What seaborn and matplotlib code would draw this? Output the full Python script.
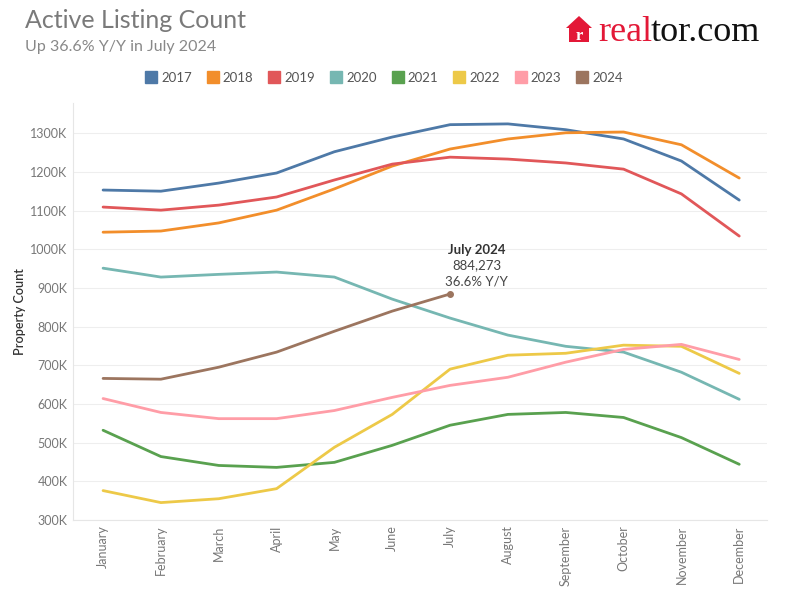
import seaborn as sns
import pandas as pd
import matplotlib.pyplot as plt
from matplotlib.patches import Polygon
from matplotlib.lines import Line2D

months = ["January", "February", "March", "April", "May", "June", "July",
          "August", "September", "October", "November", "December"]
years = ["2017", "2018", "2019", "2020", "2021", "2022", "2023", "2024"]

# active listings, thousands
y2017 = [1153, 1150, 1171, 1197, 1252, 1290, 1322, 1324, 1309, 1285, 1228, 1127]
y2018 = [1044, 1047, 1068, 1101, 1156, 1215, 1259, 1285, 1301, 1303, 1270, 1184]
y2019 = [1109, 1101, 1114, 1135, 1179, 1220, 1238, 1233, 1223, 1207, 1143, 1034]
y2020 = [951, 928, 935, 941, 928, 871, 822, 778, 749, 734, 682, 612]
y2021 = [532, 464, 441, 436, 449, 493, 545, 573, 578, 565, 513, 444]
y2022 = [376, 345, 355, 381, 488, 573, 690, 726, 731, 752, 749, 679]
y2023 = [614, 578, 562, 562, 583, 617, 648, 669, 708, 741, 754, 715]
y2024 = [666, 664, 695, 734, 788, 840, 884.273]

colors = ["#4e79a7", "#f28e2b", "#e15759", "#76b7b2",
          "#59a14f", "#edc948", "#ff9da7", "#9c755f"]

series = [y2017, y2018, y2019, y2020, y2021, y2022, y2023, y2024]
rows = []
for yr, vals in zip(years, series):
    for i, v in enumerate(vals):
        rows.append({"year": yr, "month": i, "count": v * 1000})
df = pd.DataFrame(rows)

sns.set_style("white")
plt.rcParams['font.family'] = ['Lato', 'DejaVu Sans']

fig = plt.figure(figsize=(7.88, 6), dpi=100)
ax = fig.add_axes([73 / 788, 80 / 600, (767 - 73) / 788, (520 - 103) / 600])

sns.lineplot(data=df, x="month", y="count", hue="year", palette=colors,
             linewidth=2, sort=False, legend=False, ax=ax)

# end point of 2024
ax.plot(6, y2024[-1] * 1000, "o", color=colors[-1], markersize=4)
ax.text(6.46, 998000, "July 2024", ha="center", va="center",
        fontsize=9.5, fontweight="bold", color="#333333")
ax.text(6.46, 958000, "884,273", ha="center", va="center",
        fontsize=9.5, color="#444444")
ax.text(6.46, 916000, "36.6% Y/Y", ha="center", va="center",
        fontsize=9.5, color="#444444")

ax.set_xlim(-0.52, 11.48)
ax.set_ylim(300000, 1378000)
ax.set_xticks(range(12))
ax.set_xticklabels(months, rotation=90, color="#777777", fontsize=9)
ticks = list(range(300000, 1300001, 100000))
ax.set_yticks(ticks)
ax.set_yticklabels([f"{t // 1000}K" for t in ticks], color="#777777", fontsize=9)
ax.tick_params(axis="both", length=0, pad=4)
ax.grid(axis="y", color="#eeeeee", linewidth=0.8)
ax.set_axisbelow(True)
for s in ["top", "right"]:
    ax.spines[s].set_visible(False)
for s in ["left", "bottom"]:
    ax.spines[s].set_color("#e6e6e6")
    ax.spines[s].set_linewidth(0.8)
ax.set_xlabel("")
ax.set_ylabel("Property Count", fontsize=9, color="#333333", labelpad=3,
              fontweight="semibold")

# titles
fig.text(25 / 788, 1 - 20 / 600, "Active Listing Count", fontsize=18,
         color="#7a7a7a", va="center", ha="left")
fig.text(25 / 788, 1 - 47 / 600, "Up 36.6% Y/Y in July 2024", fontsize=11.5,
         color="#888888", va="center", ha="left")

# legend
handles = [Line2D([], [], marker="s", linestyle="", markersize=8,
                  markerfacecolor=c, markeredgecolor=c) for c in colors]
fig.legend(handles, years, ncol=8, loc="center", bbox_to_anchor=(384 / 788, 1 - 78 / 600),
           frameon=False, fontsize=9.5, handletextpad=0.3, columnspacing=1.15,
           labelcolor="#555555", handlelength=0.9)

# logo
W, H = 788, 600
def fx(x):
    return x / W
def fy(y):
    return 1 - y / H
house = Polygon([(fx(566), fy(28)), (fx(579), fy(16)), (fx(592), fy(28)),
                 (fx(589), fy(28)), (fx(589), fy(42)), (fx(569), fy(42)),
                 (fx(569), fy(28))], closed=True, transform=fig.transFigure,
                facecolor="#e31837", edgecolor="none")
fig.add_artist(house)
fig.text(fx(579.5), fy(36), "r", fontsize=12, fontweight="bold", color="white",
         family="Liberation Serif", ha="center", va="center")
fig.text(fx(652), fy(41), "real", fontsize=26, color="#e31837",
         family="Liberation Serif", ha="right", va="baseline")
fig.text(fx(651), fy(41), "tor.com", fontsize=26, color="#111111",
         family="Liberation Serif", ha="left", va="baseline")

fig.savefig("out.png", dpi=100)
